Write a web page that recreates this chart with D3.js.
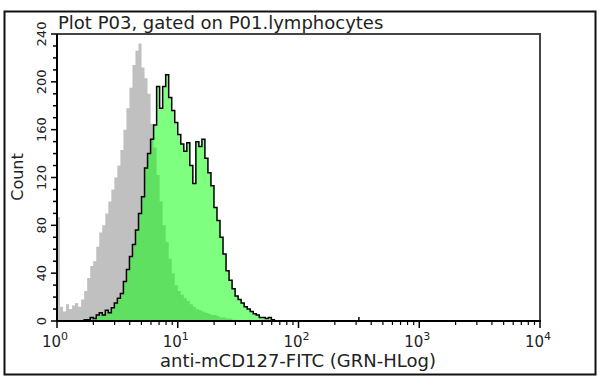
<!DOCTYPE html>
<html>
<head>
<meta charset="utf-8">
<script src="https://cdn.jsdelivr.net/npm/d3@7"></script>
<style>
    body { margin: 0; background: #fff; }
    text { font-family: "DejaVu Sans", Verdana, sans-serif; fill: #222; }
</style>
</head>
<body>
<div id="chart"></div>
<script>
// channel counts, 40 bins per decade
var binsPerDecade = 40;

var grayStart = 0;
var grayCounts = [87, 12, 8, 14, 10, 13, 15, 12, 18, 25,
    36, 46, 50, 62, 74, 80, 90, 100, 110, 120,
    130, 143, 160, 178, 195, 214, 226, 232, 212, 203,
    190, 165, 145, 122, 100, 80, 66, 52, 40, 30,
    25, 22, 19, 17, 14, 12, 10, 9, 8, 7,
    6, 5, 5, 4, 3, 3, 2, 2, 1, 1, 0];

var greenStart = 8;
var greenCounts = [0, 1, 1, 3, 2, 5, 7, 5, 9, 7,
    11, 15, 19, 23, 33, 43, 54, 64, 76, 90,
    104, 128, 140, 152, 164, 196, 178, 196, 206, 187,
    176, 166, 156, 148, 142, 149, 130, 115, 150, 146,
    152, 136, 124, 113, 95, 84, 70, 56, 42, 34,
    27, 21, 18, 15, 12, 10, 8, 6, 5, 3,
    3, 2, 3, 1, 0];

var yTicks = [0, 40, 80, 120, 160, 200, 240];
var xDecades = [0, 1, 2, 3, 4];

var title = 'Plot P03, gated on P01.lymphocytes';
var xTitle = 'anti-mCD127-FITC (GRN-HLog)';
var yTitle = 'Count';

var width = 600, height = 388;
var plot = { left: 57, right: 540, top: 34, bottom: 321 };

var svg = d3.select('#chart').append('svg')
    .attr('width', width)
    .attr('height', height);

// outer frame
svg.append('rect')
    .attr('x', 4.5).attr('y', 11.5)
    .attr('width', 591).attr('height', 363)
    .attr('fill', 'none')
    .attr('stroke', '#111')
    .attr('stroke-width', 2);

var x = d3.scaleLog().domain([1, 1e4]).range([plot.left, plot.right]);
var y = d3.scaleLinear().domain([0, 240]).range([plot.bottom, plot.top]);

function toPoints(start, counts) {
    var pts = counts.map(function (c, i) {
        return { v: Math.pow(10, (start + i) / binsPerDecade), c: c };
    });
    pts.push({ v: Math.pow(10, (start + counts.length) / binsPerDecade), c: counts[counts.length - 1] });
    return pts;
}

var area = d3.area()
    .curve(d3.curveStepAfter)
    .x(function (d) { return x(d.v); })
    .y0(y(0))
    .y1(function (d) { return y(d.c); });

var line = d3.line()
    .curve(d3.curveStepAfter)
    .x(function (d) { return x(d.v); })
    .y(function (d) { return y(d.c); });

var grayPts = toPoints(grayStart, grayCounts);
var greenPts = toPoints(greenStart, greenCounts);

svg.append('path')
    .datum(grayPts)
    .attr('d', area)
    .attr('fill', '#c0c0c0');

svg.append('path')
    .datum(greenPts)
    .attr('d', area)
    .attr('fill', 'rgb(0,255,0)')
    .attr('fill-opacity', 0.5);

svg.append('path')
    .datum(greenPts)
    .attr('d', line)
    .attr('fill', 'none')
    .attr('stroke', '#000')
    .attr('stroke-width', 1.5);

// plot frame top / right
svg.append('path')
    .attr('d', 'M' + plot.left + ',' + plot.top + 'H' + plot.right + 'V' + plot.bottom)
    .attr('fill', 'none')
    .attr('stroke', '#444')
    .attr('stroke-width', 2);

// y axis
var yMinor = d3.range(0, 241, 10);
svg.selectAll('.ytick')
    .data(yMinor)
    .enter()
    .append('line')
    .attr('x1', function (d) { return d % 40 === 0 ? plot.left - 6 : plot.left - 4; })
    .attr('x2', plot.left)
    .attr('y1', function (d) { return y(d); })
    .attr('y2', function (d) { return y(d); })
    .attr('stroke', '#000')
    .attr('stroke-width', 1.5);

svg.selectAll('.ylabel')
    .data(yTicks)
    .enter()
    .append('text')
    .attr('transform', function (d) { return 'translate(46,' + y(d) + ') rotate(-90)'; })
    .attr('text-anchor', 'middle')
    .style('font-size', '13px')
    .text(function (d) { return d; });

svg.append('line')
    .attr('x1', plot.left).attr('x2', plot.left)
    .attr('y1', plot.top).attr('y2', plot.bottom + 1)
    .attr('stroke', '#000')
    .attr('stroke-width', 2);

svg.append('text')
    .attr('transform', 'translate(23,177) rotate(-90)')
    .attr('text-anchor', 'middle')
    .style('font-size', '16px')
    .text(yTitle);

// x axis
var xMinor = [];
xDecades.slice(0, -1).forEach(function (p) {
    for (var m = 2; m <= 9; m++) xMinor.push(m * Math.pow(10, p));
});

svg.selectAll('.xminor')
    .data(xMinor)
    .enter()
    .append('line')
    .attr('x1', function (d) { return x(d); })
    .attr('x2', function (d) { return x(d); })
    .attr('y1', plot.bottom)
    .attr('y2', plot.bottom + 4)
    .attr('stroke', '#000')
    .attr('stroke-width', 1.2);

svg.selectAll('.xmajor')
    .data(xDecades)
    .enter()
    .append('line')
    .attr('x1', function (d) { return x(Math.pow(10, d)); })
    .attr('x2', function (d) { return x(Math.pow(10, d)); })
    .attr('y1', plot.bottom)
    .attr('y2', plot.bottom + 7)
    .attr('stroke', '#000')
    .attr('stroke-width', 1.5);

// small marker above the axis at 10^2.5
svg.append('line')
    .attr('x1', x(Math.pow(10, 2.5))).attr('x2', x(Math.pow(10, 2.5)))
    .attr('y1', plot.bottom).attr('y2', plot.bottom - 4)
    .attr('stroke', '#000')
    .attr('stroke-width', 1.5);

svg.append('line')
    .attr('x1', plot.left - 1).attr('x2', plot.right + 1)
    .attr('y1', plot.bottom).attr('y2', plot.bottom)
    .attr('stroke', '#000')
    .attr('stroke-width', 2);

var xLabels = svg.selectAll('.xlabel')
    .data(xDecades)
    .enter()
    .append('text')
    .attr('x', function (d) { return x(Math.pow(10, d)) - 2; })
    .attr('y', 347)
    .attr('text-anchor', 'middle')
    .style('font-size', '15px');

xLabels.append('tspan').text('10');
xLabels.append('tspan')
    .attr('dy', -7)
    .style('font-size', '11px')
    .text(function (d) { return d; });

svg.append('text')
    .attr('x', 298)
    .attr('y', 367)
    .attr('text-anchor', 'middle')
    .style('font-size', '18px')
    .text(xTitle);

svg.append('text')
    .attr('x', 58)
    .attr('y', 29)
    .style('font-size', '18px')
    .text(title);
</script>
</body>
</html>
